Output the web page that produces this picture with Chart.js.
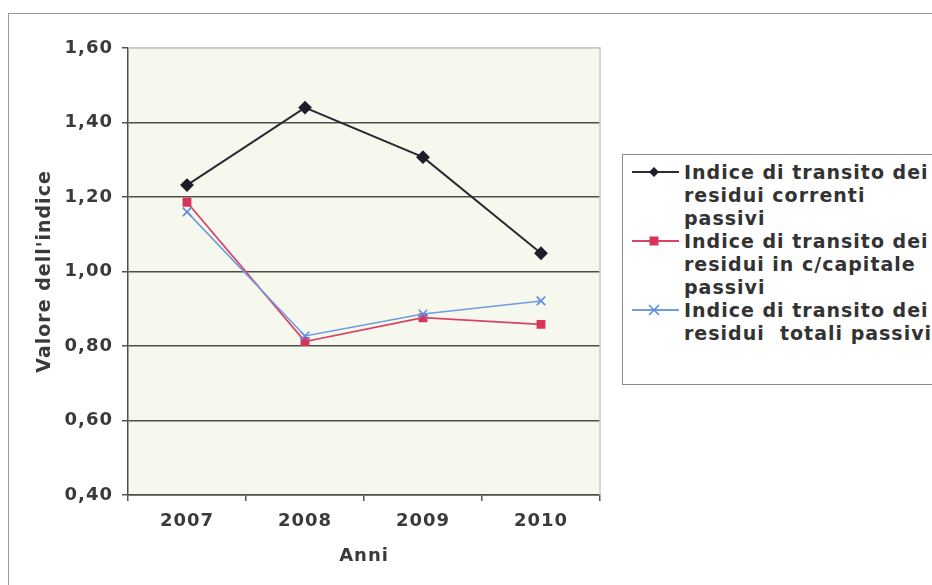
<!DOCTYPE html>
<html>
<head>
<meta charset="utf-8">
<script src="https://cdn.jsdelivr.net/npm/chart.js@4"></script>
<style>
    html, body { margin: 0; padding: 0; background: #fff; overflow: hidden; }
    #wrap { position: relative; width: 932px; height: 585px; overflow: hidden; }
    #frame {
        position: absolute; left: 8px; top: 13px; width: 1000px; height: 1000px;
        border: 1.5px solid #9a9a9a; box-sizing: border-box;
    }
    #chart { position: absolute; left: 0; top: 0; }
    #legend {
        position: absolute; left: 622px; top: 154px; width: 400px; height: 231px;
        border: 1px solid #8a8a8a; box-sizing: border-box; background: #fff;
        font: bold 19px "DejaVu Sans", Verdana, sans-serif; letter-spacing: 1px;
        color: #333; line-height: 23px; padding-top: 6px;
    }
    .item { position: relative; padding-left: 61px; white-space: pre; }
    .item svg { position: absolute; left: 9px; top: 1px; }
</style>
</head>
<body>
<div id="wrap">
    <div id="frame"></div>
    <canvas id="chart" width="932" height="585"></canvas>
    <div id="legend"></div>
</div>
<script>
// Data
const years = ["2007", "2008", "2009", "2010"];
const correnti = [1.232, 1.44, 1.307, 1.049];
const capitale = [1.186, 0.812, 0.876, 0.858];
const totali = [1.16, 0.827, 0.886, 0.921];
const seriesLabels = [
    "Indice di transito dei\nresidui correnti\npassivi",
    "Indice di transito dei\nresidui in c/capitale\npassivi",
    "Indice di transito dei\nresidui  totali passivi",
];
const yTicks = [0.4, 0.6, 0.8, 1.0, 1.2, 1.4, 1.6];

const colors = ["#1e1e2a", "#d8345a", "#5b8de0"];
const lineColors = ["#2a2a35", "#d94466", "#6f9be3"];

// canvas letter spacing, to get the wide scanned Verdana look
const spacing = {
    id: "spacing",
    beforeLayout(chart) { chart.ctx.letterSpacing = "1px"; },
    beforeDraw(chart) { chart.ctx.letterSpacing = "1px"; },
};

// pale plot background and light frame on top/right
const plotBg = {
    id: "plotBg",
    beforeDatasetsDraw(chart) {
        const { ctx, chartArea: a } = chart;
        ctx.save();
        ctx.strokeStyle = "#c9c9c2";
        ctx.lineWidth = 1.5;
        ctx.beginPath();
        ctx.moveTo(a.left, a.top);
        ctx.lineTo(a.right, a.top);
        ctx.lineTo(a.right, a.bottom);
        ctx.stroke();
        ctx.restore();
    },
    beforeDraw(chart) {
        const { ctx, chartArea: a } = chart;
        ctx.save();
        ctx.fillStyle = "#f6f8ee";
        ctx.fillRect(a.left, a.top, a.right - a.left, a.bottom - a.top);
        ctx.restore();
    },
};

const tickFont = { family: "'DejaVu Sans', Verdana, sans-serif", size: 18, weight: "bold" };

new Chart(document.getElementById("chart"), {
    type: "line",
    data: {
        labels: years,
        datasets: [
            {
                label: seriesLabels[0],
                data: correnti,
                borderColor: lineColors[0],
                borderWidth: 2,
                pointStyle: "rectRot",
                pointRadius: 5.5,
                pointBackgroundColor: colors[0],
                pointBorderColor: colors[0],
                order: 2,
            },
            {
                label: seriesLabels[1],
                data: capitale,
                borderColor: lineColors[1],
                borderWidth: 1.8,
                pointStyle: "rect",
                pointRadius: 5,
                pointBackgroundColor: colors[1],
                pointBorderColor: colors[1],
                order: 1,
            },
            {
                label: seriesLabels[2],
                data: totali,
                borderColor: lineColors[2],
                borderWidth: 1.6,
                pointStyle: "crossRot",
                pointRadius: 6,
                pointBorderWidth: 1.6,
                pointBorderColor: colors[2],
                order: 0,
            },
        ],
    },
    options: {
        responsive: false,
        animation: false,
        events: [],
        layout: { padding: { left: 0, top: 48, right: 332, bottom: 0 } },
        plugins: { legend: { display: false }, tooltip: { enabled: false } },
        scales: {
            x: {
                offset: true,
                afterFit: (s) => { s.height = 90; },
                grid: {
                    offset: true,
                    drawOnChartArea: false,
                    tickLength: 6,
                    tickColor: "#555",
                    lineWidth: 1.5,
                },
                border: { color: "#4f4f48", width: 1.5 },
                ticks: { color: "#3a3a3a", font: tickFont, padding: 10 },
                title: {
                    display: true,
                    text: "Anni",
                    color: "#3a3a3a",
                    font: tickFont,
                    padding: { top: 0, bottom: 18 },
                },
            },
            y: {
                min: 0.4,
                max: 1.6,
                afterFit: (s) => { s.width = 128; },
                afterBuildTicks: (s) => { s.ticks = yTicks.map((v) => ({ value: v })); },
                grid: {
                    color: (c) => (c.tick && c.tick.value >= 1.6 ? "#c9c9c2" : "#4f4f48"),
                    lineWidth: 1.5,
                    tickLength: 6,
                    tickColor: "#555",
                },
                border: { color: "#4f4f48", width: 1.5 },
                ticks: {
                    color: "#3a3a3a",
                    font: tickFont,
                    padding: 9,
                    callback: (v) => v.toFixed(2).replace(".", ","),
                },
                title: {
                    display: true,
                    text: "Valore dell'indice",
                    color: "#3a3a3a",
                    font: { family: "'DejaVu Sans', Verdana, sans-serif", size: 19, weight: "bold" },
                    padding: { top: 34, bottom: 0 },
                },
            },
        },
    },
    plugins: [spacing, plotBg],
});

// HTML legend built from the same series
const styles = ["rectRot", "rect", "crossRot"];
const legend = document.getElementById("legend");
seriesLabels.forEach((text, i) => {
    const item = document.createElement("div");
    item.className = "item";
    let mark = "";
    if (styles[i] === "rectRot") {
        mark = `<polygon points="22,5 27,10 22,15 17,10" fill="${colors[i]}"/>`;
    } else if (styles[i] === "rect") {
        mark = `<rect x="17.5" y="5.5" width="9" height="9" fill="${colors[i]}"/>`;
    } else {
        mark = `<path d="M17,5 L27,15 M27,5 L17,15" stroke="${colors[i]}" stroke-width="1.6"/>`;
    }
    item.innerHTML =
        `<svg width="48" height="20"><line x1="0" y1="10" x2="47" y2="10" stroke="${lineColors[i]}" stroke-width="1.8"/>${mark}</svg>` +
        text.replace(/\n/g, "<br>");
    legend.appendChild(item);
});
</script>
</body>
</html>
